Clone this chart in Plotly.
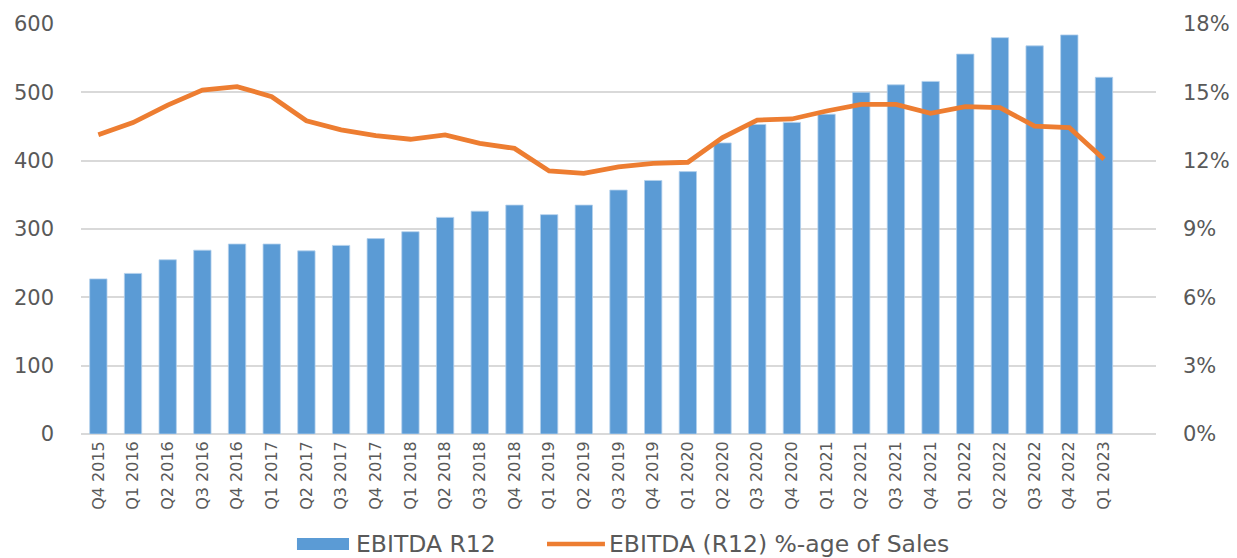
import plotly.graph_objects as go

categories = ["Q4 2015",
              "Q1 2016", "Q2 2016", "Q3 2016", "Q4 2016",
              "Q1 2017", "Q2 2017", "Q3 2017", "Q4 2017",
              "Q1 2018", "Q2 2018", "Q3 2018", "Q4 2018",
              "Q1 2019", "Q2 2019", "Q3 2019", "Q4 2019",
              "Q1 2020", "Q2 2020", "Q3 2020", "Q4 2020",
              "Q1 2021", "Q2 2021", "Q3 2021", "Q4 2021",
              "Q1 2022", "Q2 2022", "Q3 2022", "Q4 2022",
              "Q1 2023"]

ebitda_r12 = [227, 235, 255, 269, 278, 278, 268, 276, 286, 296,
              317, 326, 335, 321, 335, 357, 371, 384, 426, 453,
              456, 468, 500, 511, 516, 556, 580, 568, 584, 522]

ebitda_pct = [13.14, 13.67, 14.44, 15.10, 15.25, 14.81, 13.75, 13.35, 13.10, 12.94,
              13.13, 12.76, 12.54, 11.55, 11.44, 11.73, 11.88, 11.93, 13.01, 13.78,
              13.83, 14.18, 14.47, 14.47, 14.08, 14.37, 14.33, 13.52, 13.45, 12.06]

left_ticks = [0, 100, 200, 300, 400, 500, 600]
right_ticks = [0, 3, 6, 9, 12, 15, 18]

series_names = ["EBITDA R12", "EBITDA (R12) %-age of Sales"]

FONT = "DejaVu Sans"
GREY = "#595959"
BLUE = "#5B9BD5"
ORANGE = "#ED7D31"

fig = go.Figure()
fig.add_trace(go.Bar(
    x=categories, y=ebitda_r12, name=series_names[0],
    marker=dict(color=BLUE, line=dict(color="#B4D0EC", width=0.8)),
    width=0.5, yaxis="y", showlegend=False))
fig.add_trace(go.Scatter(
    x=categories, y=ebitda_pct, name=series_names[1],
    mode="lines", line=dict(color=ORANGE, width=4.8), yaxis="y2",
    showlegend=False))

# Legend drawn in paper space (Excel-style wide swatches)
LEG_Y = -0.2683
fig.add_shape(type="rect", xref="paper", yref="paper",
              x0=0.2009, x1=0.2493, y0=LEG_Y - 0.0146, y1=LEG_Y + 0.0146,
              fillcolor=BLUE, line=dict(width=0))
fig.add_shape(type="line", xref="paper", yref="paper",
              x0=0.4335, x1=0.4874, y0=LEG_Y, y1=LEG_Y,
              line=dict(color=ORANGE, width=4.5))
fig.add_annotation(text=series_names[0], xref="paper", yref="paper",
                   x=0.2545, y=LEG_Y, xanchor="left", yanchor="middle",
                   showarrow=False, borderpad=0,
                   font=dict(size=23.5, color=GREY, family=FONT))
fig.add_annotation(text=series_names[1], xref="paper", yref="paper",
                   x=0.4900, y=LEG_Y, xanchor="left", yanchor="middle",
                   showarrow=False, borderpad=0,
                   font=dict(size=23.5, color=GREY, family=FONT))

fig.update_layout(
    width=1237, height=558,
    margin=dict(l=81, r=81, t=24, b=124),
    paper_bgcolor="white", plot_bgcolor="white",
    font=dict(family=FONT, color=GREY),
    showlegend=False,
    xaxis=dict(type="category", range=[-0.5, 30.5], tickangle=-90,
               tickfont=dict(size=16, color=GREY, family=FONT),
               showgrid=False, showline=False, ticks="", zeroline=False,
               ticklabelstandoff=3, automargin=False),
    yaxis=dict(range=[0, 600], tickvals=left_ticks, ticktext=[str(v) for v in left_ticks],
               showgrid=True, gridcolor="#D9D9D9", gridwidth=1.5,
               zeroline=True, zerolinecolor="#D9D9D9", zerolinewidth=1.5,
               showline=False, ticks="", ticklabelstandoff=26,
               tickfont=dict(size=21, color=GREY, family=FONT), automargin=False),
    yaxis2=dict(range=[0, 18], overlaying="y", side="right",
                tickvals=right_ticks, ticktext=[f"{v}%" for v in right_ticks],
                showgrid=False, zeroline=False, showline=False, ticks="",
                ticklabelstandoff=26,
                tickfont=dict(size=21, color=GREY, family=FONT), automargin=False),
)

fig.write_html("out.html",
               config={"displayModeBar": False},
               post_script="document.body.style.margin='0';document.body.style.overflow='hidden';")
